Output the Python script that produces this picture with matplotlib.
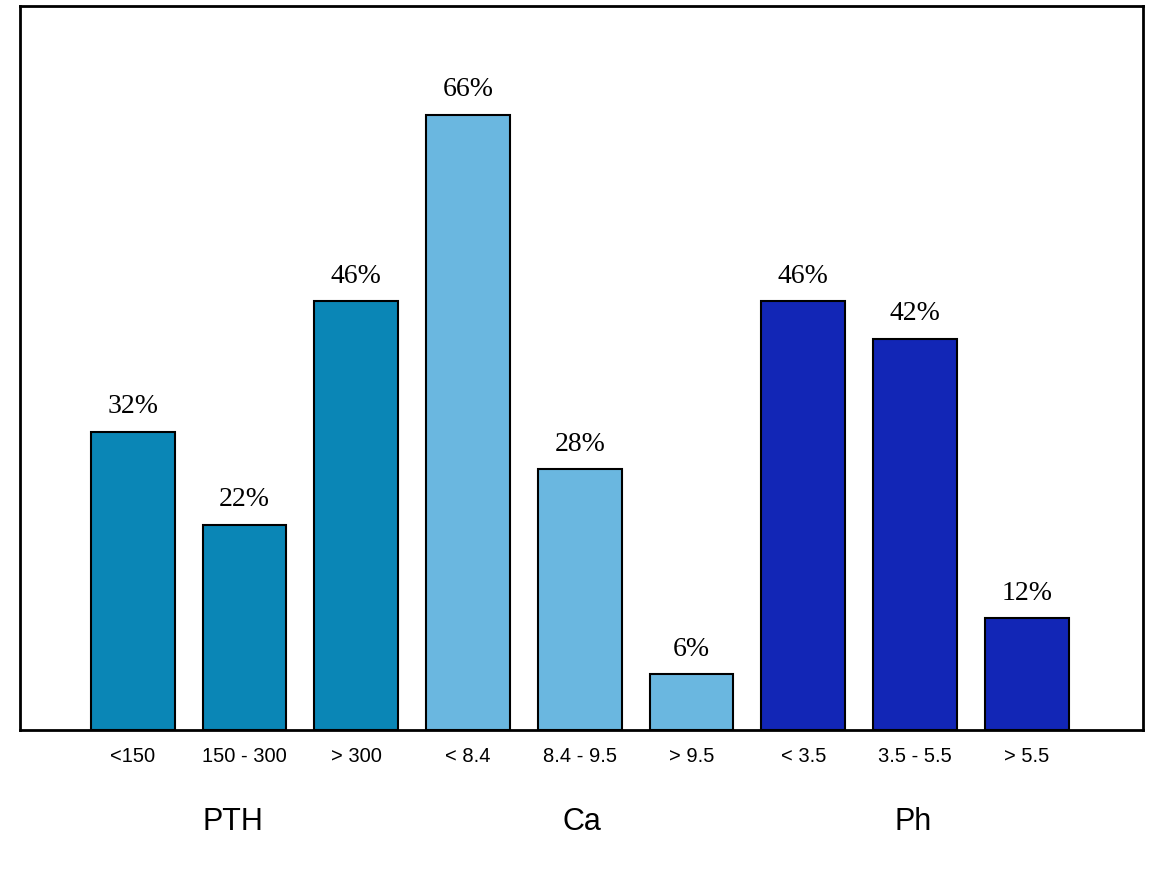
import matplotlib
matplotlib.use("Agg")
import matplotlib.pyplot as plt
import matplotlib.transforms as mtransforms

# data
categories = ["<150", "150 - 300", "> 300",
              "< 8.4", "8.4 - 9.5", "> 9.5",
              "< 3.5", "3.5 - 5.5", "> 5.5"]
values = [32, 22, 46, 66, 28, 6, 46, 42, 12]
groups = ["PTH", "Ca", "Ph"]
group_pos = [0.9, 4.02, 6.98]
group_colors = ["#0a86b6", "#6ab7e0", "#1226b6"]

bar_colors = [c for c in group_colors for _ in range(3)]
x = list(range(len(categories)))

fig = plt.figure(figsize=(11.6, 8.76), dpi=100)
ax = fig.add_axes([0.0172, 0.1667, 0.9681, 0.8265])

ax.bar(x, values, width=0.75, color=bar_colors,
       edgecolor="black", linewidth=1.5)

for xi, v in zip(x, values):
    ax.annotate(f"{v}%", (xi, v), xytext=(0, 9), textcoords="offset points",
                ha="center", va="bottom", fontsize=20,
                family="Liberation Serif")

ax.set_xlim(-1.01, 9.04)
ax.set_ylim(0, 77.7)
ax.set_yticks([])
ax.set_xticks(x)
ax.set_xticklabels(categories, fontsize=14.5, family="Liberation Sans")
ax.tick_params(axis="x", length=0, pad=12)

for side in ax.spines.values():
    side.set_linewidth(2)

# group names under the tick labels
trans = mtransforms.blended_transform_factory(ax.transData, ax.transAxes)
for name, gx in zip(groups, group_pos):
    ax.text(gx, -0.127, name, transform=trans, ha="center", va="center",
            fontsize=22, family="Liberation Sans")

fig.savefig("out.png", dpi=100)
